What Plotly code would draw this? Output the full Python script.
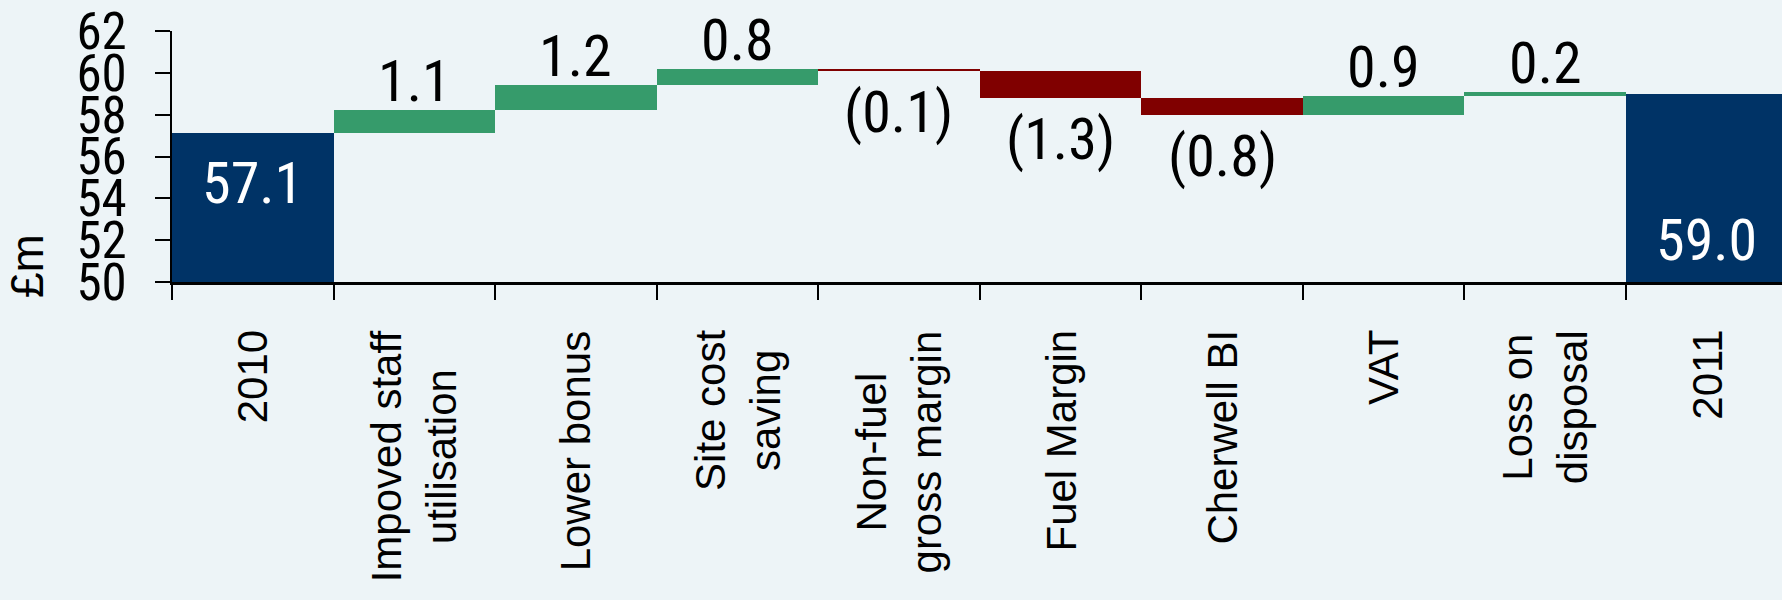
import plotly.graph_objects as go

# Bridge of operating profit, £m
categories = ["2010", "Impoved staff<br>utilisation", "Lower bonus", "Site cost<br>saving",
              "Non-fuel<br>gross margin", "Fuel Margin", "Cherwell BI", "VAT",
              "Loss on<br>disposal", "2011"]
measures = ["absolute", "relative", "relative", "relative", "relative",
            "relative", "relative", "relative", "relative", "absolute"]
values = [57.1, 1.1, 1.2, 0.8, -0.1, -1.3, -0.8, 0.9, 0.2, 59.0]
y_ticks = [50, 52, 54, 56, 58, 60, 62]

NUM_FONT = ("Roboto Condensed, Noto Sans ExtraCondensed, Noto Sans Condensed, "
            "DejaVu Sans Condensed, Liberation Sans Narrow, Liberation Sans, sans-serif")
CAT_FONT = "Liberation Sans, Arial, sans-serif"
GREEN = "#369b6b"
RED = "#800000"
NAVY = "#003366"

fig = go.Figure()
fig.add_trace(go.Waterfall(
    x=categories,
    y=values,
    measure=measures,
    increasing=dict(marker=dict(color=GREEN, line=dict(width=0))),
    decreasing=dict(marker=dict(color=RED, line=dict(width=0))),
    totals=dict(marker=dict(color=NAVY, line=dict(width=0))),
    connector=dict(visible=False),
    hoverinfo="skip",
    showlegend=False,
))

# running level after each step, used to place the value labels
level = 0.0
annotations = []
for i, (m, v) in enumerate(zip(measures, values)):
    if m == "absolute":
        level = v
        if i == 0:
            annotations.append(dict(x=i, y=v, yanchor="top", yshift=-14,
                                    text=f"{v:.1f}", font=dict(color="white")))
        else:
            annotations.append(dict(x=i, y=y_ticks[0], yanchor="bottom", yshift=6,
                                    text=f"{v:.1f}", font=dict(color="white")))
    else:
        level = level + v
        if v >= 0:
            annotations.append(dict(x=i, y=level, yanchor="bottom", yshift=-7,
                                    text=f"{v:.1f}"))
        else:
            annotations.append(dict(x=i, y=level, yanchor="top", yshift=-5,
                                    text=f"({abs(v):.1f})"))

for a in annotations:
    a.update(xref="x", yref="y", showarrow=False)
    f = dict(family=NUM_FONT, size=58, color="black")
    f.update(a.get("font", {}))
    a["font"] = f
    fig.add_annotation(**a)

# rotated category labels under the axis
for i, cat in enumerate(categories):
    fig.add_annotation(x=i, xref="x", y=0, yref="paper", yanchor="top", yshift=-46,
                       text=cat, textangle=-90, align="center", showarrow=False,
                       font=dict(family=CAT_FONT, size=42, color="black"))

# axis unit label
fig.add_annotation(text="£m", xref="paper", yref="paper", x=0, y=0, xanchor="center",
                   yanchor="middle", xshift=-145, yshift=16, textangle=-90,
                   showarrow=False, font=dict(family=CAT_FONT, size=46, color="black"))

fig.update_layout(
    width=1782, height=600,
    margin=dict(l=172, r=0, t=31, b=318),
    paper_bgcolor="#edf4f7",
    plot_bgcolor="rgba(0,0,0,0)",
    waterfallgap=0,
    xaxis=dict(
        type="category",
        range=[-0.5, 9.466],
        showgrid=False, zeroline=False,
        showline=True, linecolor="black", linewidth=3,
        ticks="outside", ticklen=15, tickwidth=1.5, tickcolor="black",
        tickson="boundaries",
        showticklabels=False,
    ),
    yaxis=dict(
        range=[50, 62],
        tickmode="array", tickvals=y_ticks, ticktext=[str(t) for t in y_ticks],
        showgrid=False, zeroline=False,
        showline=True, linecolor="black", linewidth=2,
        ticks="outside", ticklen=15, tickwidth=1.5, tickcolor="black",
        ticklabelstandoff=18,
        tickfont=dict(family=NUM_FONT, size=51, color="black"),
    ),
)

fig.write_html("out.html")
